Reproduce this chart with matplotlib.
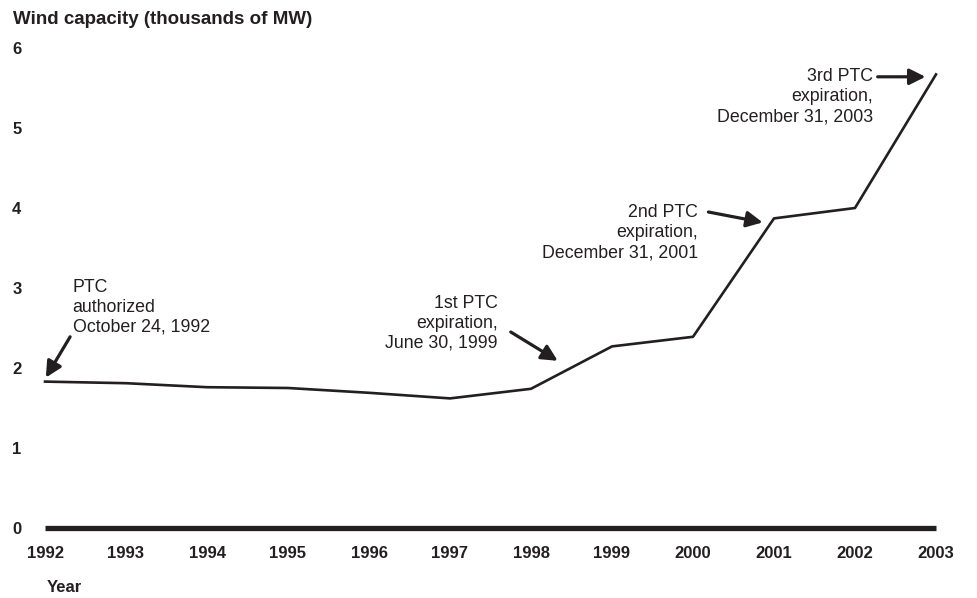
import matplotlib
matplotlib.use("Agg")
import matplotlib.pyplot as plt

# Wind capacity data (thousands of MW)
years = [1992, 1993, 1994, 1995, 1996, 1997, 1998, 1999, 2000, 2001, 2002, 2003]
capacity = [1.83, 1.81, 1.76, 1.75, 1.69, 1.62, 1.74, 2.27, 2.39, 3.87, 4.00, 5.67]
y_ticks = [0, 1, 2, 3, 4, 5, 6]

# annotation text, text anchor, arrow tail, arrow head (data coords)
notes = [
    ("PTC\nauthorized\nOctober 24, 1992", (1992.34, 2.76), "left", (1992.31, 2.39), (1992.01, 1.88)),
    ("1st PTC\nexpiration,\nJune 30, 1999", (1997.59, 2.56), "right", (1997.75, 2.45), (1998.33, 2.09)),
    ("2nd PTC\nexpiration,\nDecember 31, 2001", (2000.06, 3.69), "right", (2000.19, 3.95), (2000.86, 3.82)),
    ("3rd PTC\nexpiration,\nDecember 31, 2003", (2002.22, 5.39), "right", (2002.28, 5.64), (2002.87, 5.64)),
]

ink = "#231f20"
plt.rcParams["font.family"] = ["Liberation Sans", "DejaVu Sans"]

fig = plt.figure(figsize=(9.77, 5.98), dpi=100)
ax = fig.add_axes([45 / 977, 1 - 528 / 598, 891 / 977, 480 / 598])

ax.plot(years, capacity, color=ink, lw=1.9, clip_on=False, zorder=3)
ax.axhline(0, color=ink, lw=3.8, solid_capstyle="butt", clip_on=False)

ax.set_xlim(1992, 2003)
ax.set_ylim(0, 6)
ax.set_xticks(years)
ax.set_yticks(y_ticks)
ax.tick_params(length=0)
ax.tick_params(axis="x", pad=13, labelsize=12)
ax.tick_params(axis="y", pad=17, labelsize=12)
for lab in ax.get_xticklabels() + ax.get_yticklabels():
    lab.set_fontweight("bold")
    lab.set_color(ink)
for s in ax.spines.values():
    s.set_visible(False)

for text, pos, ha, tail, head in notes:
    ax.text(pos[0], pos[1], text, ha=ha, va="center", fontsize=12.8,
            color=ink, linespacing=1.22)
    ax.annotate("", xy=head, xytext=tail,
                arrowprops=dict(arrowstyle="-|>", color=ink, lw=2.3,
                                mutation_scale=24, shrinkA=0, shrinkB=0),
                annotation_clip=False)

fig.text(13 / 977, 1 - 20 / 598, "Wind capacity (thousands of MW)", fontsize=13.5,
         fontweight="bold", color=ink, va="center", ha="left")
fig.text(47 / 977, 1 - 587 / 598, "Year", fontsize=12, fontweight="bold",
         color=ink, va="center", ha="left")

fig.savefig("out.png", dpi=100)
